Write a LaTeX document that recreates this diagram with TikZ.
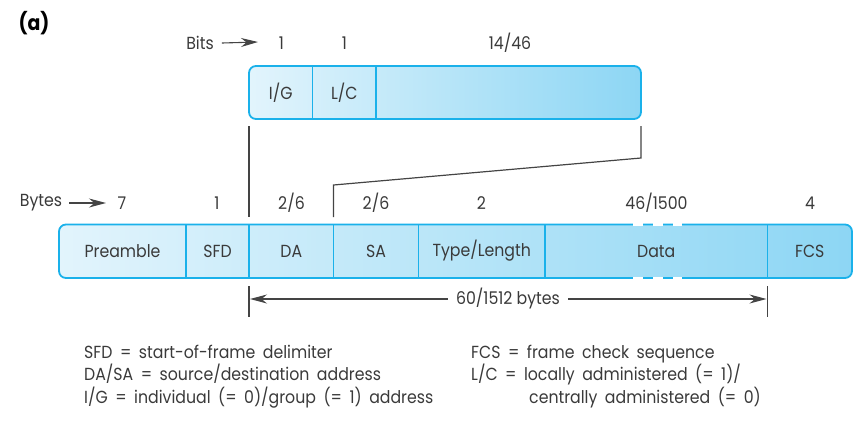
\documentclass[tikz,border=0pt]{standalone}
\usepackage{fontspec}
\setmainfont[FakeStretch=0.9]{Poppins}
\usetikzlibrary{arrows.meta}
\definecolor{bord}{HTML}{1AB1EA}
\definecolor{fillL}{HTML}{E2F4FC}
\definecolor{fillR}{HTML}{8DD6F4}
\definecolor{ink}{HTML}{3A3A3A}
\definecolor{lineg}{HTML}{444444}
\newcommand\mylegsp{\spaceskip=7.5pt plus 1pt minus 1pt\relax}
\tikzset{
  every node/.style={font=\fontsize{17.5}{20}\selectfont, text=ink, inner sep=0pt},
  cell/.style={minimum height=53.5pt, draw=none},
  conn/.style={draw=lineg, line width=1.2pt},
  divl/.style={draw=bord, line width=1.5pt},
  tip/.style={-{Stealth[length=17pt, width=9pt]}, draw=lineg, line width=1.1pt},
  barfill/.style={left color=fillL, right color=fillR, draw=bord, line width=1.8pt, rounded corners=7pt},
  gap/.style={draw=white, line width=2.6pt},
  leg/.style={anchor=base west, font=\fontsize{17.5}{20}\selectfont\mylegsp}
}
\begin{document}
\begin{tikzpicture}[x=1pt, y=-1pt]
\useasboundingbox (0,0) rectangle (860,432);

% (a)
\node[font=\fontsize{21}{24}\selectfont\bfseries, text=black] (lab) at (34,23) {(a)};

% ---------- top bit box ----------
\path[barfill] (249,66) rectangle (641,119);
\node[cell, minimum width=63.5pt] (ig) at (280.75,92.5) {I/G};
\node[cell, minimum width=63.5pt] (lc) at (344.25,92.5) {L/C};
\node[cell, minimum width=265pt] (rest) at (508.5,92.5) {};
\draw[divl] (ig.north east) -- (ig.south east);
\draw[divl] (lc.north east) -- (lc.south east);

% bits labels
\node (bits) at (200,43) {Bits};
\coordinate (bitsA) at (258,42);
\draw[tip] (bits.east) ++(8,0) -- (bitsA);
\node (b1) at (281.5,43) {1};
\node (b2) at (344.5,43) {1};
\node (b3) at (510,43) {14/46};

% ---------- main frame ----------
\path[barfill] (59,224.5) rectangle (852,278);
\node[cell, minimum width=127pt] (pre) at (122.5,251) {Preamble};
\node[cell, minimum width=63pt] (sfd) at (217.5,251) {SFD};
\node[cell, minimum width=84.5pt] (da) at (291.25,251) {DA};
\node[cell, minimum width=85pt] (sa) at (376,251) {SA};
\node[cell, minimum width=126.5pt] (tl) at (481.75,251) {Type/Length};
\node[cell, minimum width=222.5pt] (data) at (656.25,251) {Data};
\node[cell, minimum width=84.5pt] (fcs) at (809.75,251) {FCS};
\foreach \c in {pre,sfd,da,sa,tl,data}
  \draw[divl] (\c.north east) -- (\c.south east);
% broken border of Data
\foreach \a/\b in {633/643,653/663,673/682}{
  \draw[gap] (\a,224.5) -- (\b,224.5);
  \draw[gap] (\a,278) -- (\b,278);
}

% bytes labels
\node (bytes) at (41,203) {Bytes};
\coordinate (bytesA) at (106,203);
\draw[tip] (bytes.east) ++(7,0) -- (bytesA);
\node (n7) at (122,203) {7};
\node (n1) at (217,203) {1};
\node (n26a) at (291.5,203) {2/6};
\node (n26b) at (376,203) {2/6};
\node (n2) at (481.5,203) {2};
\node (n46) at (656.5,203) {46/1500};
\node (n4) at (810,203) {4};

% ---------- expansion connectors ----------
\coordinate (igL) at (249,126);
\coordinate (daL) at (249,217);
\coordinate (restR) at (641,126);
\coordinate (k1) at (641,158);
\coordinate (k2) at (333.5,185);
\coordinate (saL) at (333.5,217);
\draw[conn] (igL) -- (daL);
\draw[conn] (restR) -- (k1) -- (k2) -- (saL);

% ---------- length dimension ----------
\coordinate (t1a) at (249,286);
\coordinate (t1b) at (249,317);
\coordinate (t2a) at (767.5,286);
\coordinate (t2b) at (767.5,317);
\draw[conn] (t1a) -- (t1b);
\draw[conn] (t2a) -- (t2b);
\node (len) at (508,299) {60/1512 bytes};
\coordinate (arrL) at (250,299);
\coordinate (arrR) at (766.5,299);
\draw[tip] (len.west) ++(-8,0) -- (arrL);
\draw[tip] (len.east) ++(8,0) -- (arrR);

% ---------- legend ----------
\node[leg] (g1) at (84,358) {SFD = start-of-frame delimiter};
\node[leg] (g2) at (84,380.5) {DA/SA = source/destination address};
\node[leg] (g3) at (84,403) {I/G = individual (= 0)/group (= 1) address};
\node[leg] (g4) at (471,358) {FCS = frame check sequence};
\node[leg] (g5) at (471,380.5) {L/C = locally administered (= 1)/};
\node[leg] (g6) at (529,403) {centrally administered (= 0)};
\end{tikzpicture}
\end{document}
